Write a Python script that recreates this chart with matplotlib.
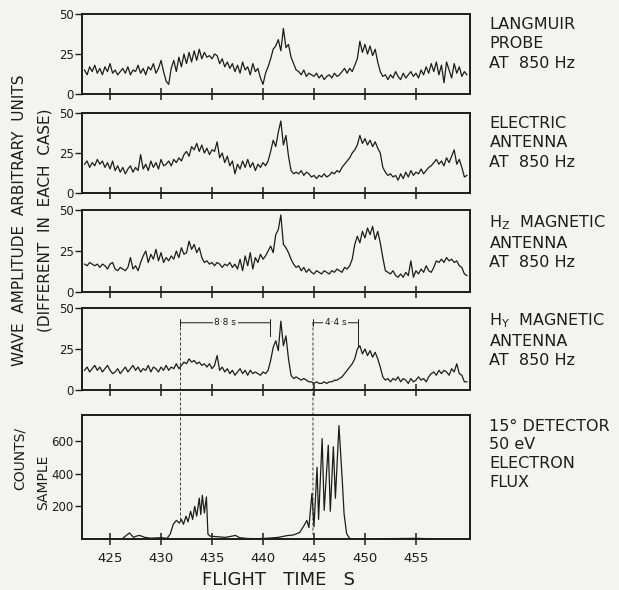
import numpy as np
import matplotlib
matplotlib.use("Agg")
import matplotlib.pyplot as plt
from matplotlib.patches import ConnectionPatch

# ---------------- data ----------------
t_start, t_step = 422.5, 0.25   # sampling of the wave-amplitude traces (s)

langmuir = [15, 12, 17, 14, 18, 13, 16, 12, 17, 14, 19, 13, 15, 12, 14, 16,
            13, 17, 12, 15, 14, 18, 13, 16, 12, 17, 15, 19, 13, 16, 21, 14,
            8, 6, 16, 21, 14, 23, 17, 25, 19, 26, 20, 27, 21, 28, 22, 26,
            23, 24, 22, 25, 24, 19, 22, 17, 20, 16, 19, 14, 18, 13, 20, 15,
            17, 12, 19, 14, 16, 10, 6, 13, 17, 22, 28, 30, 34, 27, 41, 29,
            31, 23, 19, 15, 14, 12, 15, 11, 13, 12, 11, 13, 10, 12, 9, 11,
            12, 10, 13, 11, 12, 14, 16, 13, 16, 14, 18, 22, 33, 26, 31, 25,
            30, 24, 28, 20, 14, 11, 12, 9, 12, 10, 14, 11, 9, 13, 10, 12,
            14, 11, 13, 10, 15, 12, 17, 13, 19, 14, 20, 12, 18, 7, 20, 15,
            10, 19, 13, 17, 11, 14, 12]

electric = [18, 20, 16, 19, 17, 21, 18, 20, 16, 19, 15, 20, 14, 17, 13, 16,
            12, 15, 17, 13, 16, 14, 24, 15, 18, 14, 20, 16, 19, 15, 21, 17,
            18, 20, 17, 21, 19, 22, 20, 24, 26, 23, 29, 27, 31, 26, 30, 25,
            28, 24, 27, 26, 32, 22, 25, 19, 23, 17, 20, 12, 18, 15, 20, 16,
            21, 16, 19, 14, 18, 16, 19, 17, 20, 26, 33, 29, 38, 45, 30, 36,
            23, 14, 12, 13, 12, 14, 11, 13, 12, 10, 11, 9, 11, 10, 12, 10,
            11, 13, 12, 14, 13, 16, 18, 20, 22, 25, 27, 30, 36, 31, 34, 30,
            33, 29, 32, 28, 25, 16, 13, 11, 12, 10, 11, 8, 12, 9, 13, 10,
            14, 11, 13, 12, 15, 12, 14, 16, 17, 19, 21, 18, 20, 17, 22, 19,
            23, 27, 18, 21, 16, 10, 11]

hz_mag = [17, 16, 18, 17, 16, 17, 15, 17, 16, 14, 17, 18, 14, 13, 15, 14,
          13, 15, 21, 14, 16, 13, 18, 22, 25, 18, 23, 20, 26, 19, 24, 18,
          21, 19, 22, 20, 25, 21, 27, 23, 24, 31, 26, 29, 24, 27, 21, 18,
          19, 17, 18, 16, 18, 17, 15, 17, 16, 18, 15, 17, 14, 20, 13, 22,
          16, 24, 14, 21, 18, 23, 20, 22, 25, 28, 24, 35, 38, 47, 29, 27,
          24, 20, 17, 15, 16, 13, 15, 12, 14, 12, 11, 13, 12, 11, 13, 12,
          11, 13, 12, 14, 13, 12, 15, 14, 16, 20, 29, 34, 30, 37, 33, 39,
          35, 40, 32, 37, 30, 21, 13, 12, 11, 13, 10, 9, 11, 9, 12, 10,
          19, 9, 13, 11, 14, 12, 16, 13, 12, 15, 19, 18, 20, 18, 21, 19,
          20, 18, 19, 16, 15, 11, 10]

hy_mag = [12, 14, 11, 13, 15, 12, 14, 11, 13, 15, 12, 10, 11, 13, 10, 12,
          14, 11, 13, 15, 12, 14, 11, 13, 12, 15, 11, 14, 13, 11, 14, 12,
          15, 12, 14, 13, 16, 13, 15, 17, 16, 19, 17, 18, 16, 17, 15, 16,
          14, 16, 13, 15, 21, 12, 14, 11, 13, 10, 12, 9, 11, 13, 10, 12,
          9, 12, 10, 11, 10, 9, 11, 10, 12, 18, 26, 30, 24, 42, 27, 33,
          19, 9, 7, 8, 7, 6, 7, 6, 5, 5, 4, 5, 4, 4, 5, 4,
          5, 5, 6, 6, 7, 8, 10, 12, 14, 16, 19, 25, 27, 22, 25, 21,
          24, 20, 23, 19, 14, 8, 6, 7, 5, 7, 6, 8, 5, 7, 6, 4,
          7, 5, 6, 8, 6, 7, 5, 8, 10, 11, 9, 12, 10, 12, 11, 9,
          13, 11, 16, 10, 9, 5, 5]

flux_t = [422.4, 423.5, 425.0, 426.2, 426.9, 427.3, 427.6, 427.9, 428.4, 429.0,
          430.0, 430.6, 430.9, 431.2, 431.5, 431.8, 432.0, 432.2, 432.45, 432.65,
          432.9, 433.1, 433.3, 433.5, 433.75, 433.9, 434.05, 434.25, 434.45, 434.6,
          434.8, 435.5, 436.3, 437.0, 437.3, 437.7, 438.5, 439.5, 440.5, 441.5,
          442.3, 443.0, 443.6, 444.0, 444.3, 444.5, 444.8, 445.0, 445.3, 445.45,
          445.8, 446.0, 446.4, 446.6, 446.9, 447.1, 447.45, 447.8, 447.95, 448.2,
          448.5, 449.5, 452.0, 455.0, 457.0, 460.3]
flux_v = [2, 0, 1, 2, 37, 10, 18, 22, 10, 5,
          8, 4, 30, 90, 114, 98, 120, 90, 140, 105,
          170, 120, 200, 140, 250, 150, 268, 160, 258, 30,
          18, 14, 10, 18, 22, 8, 3, 2, 5, 10,
          20, 25, 40, 80, 114, 70, 280, 75, 440, 120,
          615, 175, 575, 170, 565, 250, 695, 330, 155, 33,
          3, 0, 2, 4, 1, 0]

x_ticks = [425, 430, 435, 440, 445, 450, 455]
wave_yticks = [0, 25, 50]
flux_yticks = [200, 400, 600]

wave_labels = ["LANGMUIR\nPROBE\nAT  850 Hz",
               "ELECTRIC\nANTENNA\nAT  850 Hz",
               r"H$_{\mathrm{Z}}$  MAGNETIC" + "\nANTENNA\nAT  850 Hz",
               r"H$_{\mathrm{Y}}$  MAGNETIC" + "\nANTENNA\nAT  850 Hz"]
flux_label = "15° DETECTOR\n50 eV\nELECTRON\nFLUX"

# ---------------- figure ----------------
plt.rcParams["font.family"] = ["DejaVu Sans"]
bg = "#f3f3f1"
ink = "#1c1c1c"
W, H = 619, 590
fig = plt.figure(figsize=(W / 100, H / 100), dpi=100, facecolor=bg)

def fx(px):
    return px / W

def fy(py):
    return 1 - py / H

left, right = 82, 470
panels_px = [(14, 94), (113, 193), (210, 292), (308, 390)]
xlim = (422.25, 460.3)

t_wave = t_start + t_step * np.arange(len(langmuir))
series = [langmuir, electric, hz_mag, hy_mag]

def style(ax):
    ax.set_facecolor(bg)
    for s in ax.spines.values():
        s.set_linewidth(1.4)
        s.set_color(ink)
    ax.set_xlim(*xlim)
    ax.set_xticks(x_ticks)
    ax.tick_params(axis="x", direction="inout", length=8, width=1.1, colors=ink)
    ax.tick_params(axis="y", direction="out", length=5, width=1.0, colors=ink,
                   labelsize=8.5, pad=1)

axes = []
for i, (top, bot) in enumerate(panels_px):
    ax = fig.add_axes([fx(left), fy(bot), fx(right - left), (bot - top) / H])
    style(ax)
    ax.plot(t_wave, series[i], color=ink, lw=0.9)
    ax.set_ylim(0, 50)
    ax.set_yticks(wave_yticks)
    ax.set_xticklabels([])
    ax.text(1.05, 0.96, wave_labels[i], transform=ax.transAxes, ha="left",
            va="top", fontsize=11.5, color=ink, linespacing=1.35)
    axes.append(ax)

ax5 = fig.add_axes([fx(left), fy(539), fx(right - left), (539 - 415) / H])
style(ax5)
ax5.plot(flux_t, flux_v, color=ink, lw=0.9)
ax5.set_ylim(0, 760)
ax5.set_yticks(flux_yticks)
ax5.set_xticklabels([str(v) for v in x_ticks], fontsize=9.5)
ax5.tick_params(axis="x", pad=5)
ax5.text(1.05, 0.97, flux_label, transform=ax5.transAxes, ha="left",
         va="top", fontsize=11.5, color=ink, linespacing=1.3)

# ---------------- timing annotations ----------------
ax4 = axes[3]
bar_y = 41
for (a, b, lab, b_end, f_end) in [(431.9, 440.7, "8·8 s", 33, 120),
                                  (444.9, 449.3, "4·4 s", 27, 30)]:
    ax4.annotate("", xy=(a, bar_y), xytext=(b, bar_y),
                 arrowprops=dict(arrowstyle="|-|,widthA=0.25,widthB=0.25",
                                 lw=0.7, color=ink, shrinkA=0, shrinkB=0))
    ax4.text((a + b) / 2, bar_y, lab, ha="center", va="center", fontsize=6.5,
             color=ink, bbox=dict(facecolor=bg, edgecolor="none", pad=1))
    ax4.plot([b, b], [bar_y, b_end], color=ink, lw=0.7)
    con = ConnectionPatch(xyA=(a, bar_y), coordsA=ax4.transData,
                          xyB=(a, f_end), coordsB=ax5.transData,
                          linestyle=(0, (3, 3)), lw=0.6, color=ink)
    fig.add_artist(con)

# ---------------- axis titles ----------------
fig.text(fx(20), fy(220), "WAVE  AMPLITUDE  ARBITRARY  UNITS", rotation=90,
         ha="center", va="center", fontsize=11, color=ink)
fig.text(fx(45), fy(220), "(DIFFERENT  IN  EACH  CASE)", rotation=90,
         ha="center", va="center", fontsize=11, color=ink)
fig.text(fx(20), fy(459), "COUNTS/", rotation=90, ha="center", va="center",
         fontsize=10, color=ink)
fig.text(fx(43), fy(482), "SAMPLE", rotation=90, ha="center", va="center",
         fontsize=10, color=ink)
fig.text(fx(279), fy(580), "FLIGHT   TIME   S", ha="center", va="center",
         fontsize=13, color=ink)

fig.savefig("out.png", dpi=100, facecolor=bg)
